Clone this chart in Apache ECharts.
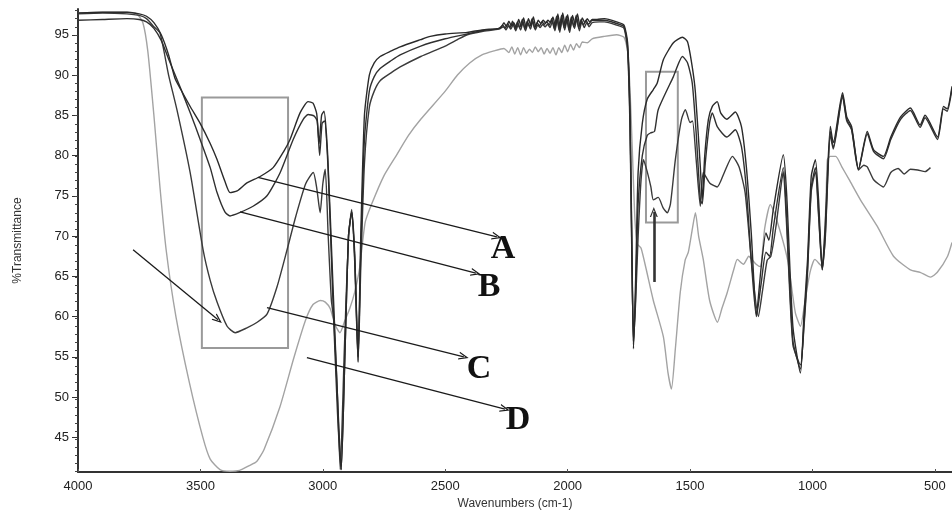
<!DOCTYPE html>
<html><head><meta charset="utf-8">
<script src="https://cdn.jsdelivr.net/npm/echarts@6/dist/echarts.min.js"></script>
<style>html,body{margin:0;padding:0;background:#fff}#c{width:952px;height:515px}</style>
</head><body><div id="c"></div>
<script>
// ---- data: [wavenumber (cm-1), %Transmittance] ----
const specA = [
[4000,97.7],[3900,97.8],[3800,97.8],[3750,97.6],[3720,97.3],[3690,96.5],[3660,95],[3630,92.5],[3604,89.6],[3580,88.2],[3540,86],[3501,84],[3460,81.5],[3432,79.5],[3400,76.8],[3379,75.4],[3350,75.6],[3310,76.6],[3256,77.4],[3203,78.5],[3160,80.5],[3134,82],[3093,85.3],[3060,86.7],[3040,86.5],[3025,85.2],[3015,81.5],[3005,85],[2995,85.5],[2980,80],[2960,65],[2940,50],[2925,41],[2910,55],[2895,70],[2882,73],[2870,68],[2856,55],[2845,70],[2830,85],[2810,90],[2790,91.5],[2766,92.3],[2720,93],[2684,93.5],[2600,94.4],[2561,94.8],[2500,95.1],[2410,95.3],[2350,95.6],[2280,95.8],
[2270,96.0],[2260,96.5],[2250,96.0],[2240,96.7],[2230,96.1],[2220,96.5],[2210,95.9],[2200,96.9],[2190,96.0],[2180,97.1],[2170,95.9],[2160,97.0],[2150,96.1],[2140,97.2],[2130,96.0],[2120,96.8],[2110,96.4],[2100,96.8],[2090,96.5],[2080,96.8],[2070,96.5],[2060,97.2],[2050,96.0],[2040,97.6],[2030,95.8],[2020,97.7],[2010,96.1],[2000,97.5],[1990,95.8],[1980,97.4],[1970,96.3],[1960,97.6],[1950,96.1],[1940,97.1],[1930,96.5],[1920,97.0],[1910,96.6],[1900,96.9],[1880,96.9],
[1850,97],[1800,96.6],[1770,96.2],[1755,94],[1745,85],[1738,70],[1731,56],[1722,65],[1712,78],[1695,84],[1675,87],[1650,88.2],[1634,89],[1609,91.9],[1568,94],[1531,94.7],[1510,94.1],[1491,91],[1478,87.8],[1458,78.6],[1450,74.5],[1440,80],[1425,84.5],[1409,86.1],[1389,86.7],[1375,85.3],[1350,84.5],[1315,85.4],[1290,83.6],[1270,78.6],[1250,70.4],[1229,60.2],[1210,66],[1190,70.4],[1178,69.5],[1160,73.3],[1119,80.1],[1105,75],[1080,58.8],[1049,53],[1035,60],[1020,67.1],[1005,77.4],[988,79.5],[975,74.5],[960,65.8],[948,71.2],[927,83.6],[915,81.6],[877,87.8],[860,84.8],[840,83.6],[812,78.3],[776,83],[750,80.7],[710,79.9],[680,82.3],[640,84.8],[600,85.9],[560,83.8],[540,85],[489,82.3],[465,86.1],[450,85.8],[430,88.6]
];
const specB = [
[4000,96.8],[3900,96.9],[3800,97],[3750,96.9],[3720,96.6],[3690,95.8],[3660,94.3],[3630,92],[3583,88.5],[3540,85.2],[3501,82],[3460,78.5],[3432,75.4],[3400,73],[3379,72.5],[3340,72.9],[3285,73.7],[3228,75],[3174,77.9],[3121,82],[3080,84.5],[3060,85.1],[3035,84.9],[3023,84.3],[3013,80],[3003,84],[2993,84.3],[2978,78],[2960,63],[2940,48],[2925,41],[2910,55],[2895,70],[2882,73],[2870,67],[2856,54.5],[2845,68],[2830,82],[2810,88],[2790,89.8],[2766,90.8],[2720,91.8],[2684,92.5],[2600,93.6],[2500,94.5],[2410,95.1],[2350,95.5],[2280,95.8],
[2265,96.2],[2255,95.8],[2245,96.4],[2235,95.9],[2225,96.7],[2215,95.7],[2205,96.6],[2195,95.9],[2185,96.9],[2175,95.7],[2165,96.7],[2155,96.0],[2145,97.0],[2135,95.8],[2125,96.5],[2115,96.1],[2105,96.6],[2095,96.3],[2085,96.6],[2075,96.2],[2065,97.0],[2055,95.8],[2045,97.3],[2035,95.6],[2025,97.4],[2015,95.9],[2005,97.3],[1995,95.6],[1985,97.2],[1975,96.0],[1965,97.4],[1955,95.8],[1945,96.9],[1935,96.2],[1925,96.8],[1915,96.3],[1900,96.8],[1870,96.8],
[1850,96.8],[1800,96.4],[1770,96],[1755,93.5],[1745,84],[1738,69],[1731,56.5],[1722,63],[1712,74],[1695,80],[1675,82.5],[1662,82.8],[1645,83],[1630,85.7],[1568,89.8],[1531,92.3],[1510,91.5],[1491,89],[1475,82.8],[1458,74.5],[1450,74],[1438,79],[1420,84.1],[1409,85.3],[1389,83.6],[1350,82.3],[1315,83.2],[1290,81.1],[1270,75.8],[1250,67],[1229,60],[1210,64],[1190,68],[1175,67.5],[1160,71],[1119,78.5],[1105,72],[1080,57],[1049,53.5],[1035,59],[1020,66],[1005,76],[988,78.5],[975,73],[960,65.8],[948,70],[927,83],[915,81],[877,87.5],[860,84.5],[840,83.3],[812,78.3],[776,82.7],[750,80.5],[710,79.6],[680,82],[640,84.5],[600,85.6],[560,83.5],[540,84.7],[489,82],[465,85.8],[450,85.5],[430,88.3]
];
const specC = [
[4000,97.6],[3900,97.7],[3800,97.6],[3750,97.4],[3720,97],[3690,96],[3665,95.2],[3630,90],[3596,85.7],[3542,77.9],[3489,68.3],[3460,64.5],[3432,61.8],[3391,58.8],[3358,58],[3310,58.6],[3268,59.3],[3228,60.3],[3187,63.7],[3146,68.3],[3110,72.5],[3070,76.5],[3039,77.9],[3025,76],[3011,72.9],[3000,76.5],[2990,78.3],[2978,70],[2965,62],[2955,59.6],[2940,50],[2929,41],[2912,56],[2895,70],[2882,73.3],[2868,66],[2856,54.3],[2845,66],[2830,79],[2810,86],[2790,88],[2766,89.3],[2720,90.3],[2684,91],[2600,92.3],[2500,93.6],[2450,94.4],[2410,95],[2350,95.4],[2280,95.7],
[2262,96.0],[2252,95.6],[2242,96.1],[2232,95.7],[2222,96.3],[2212,95.5],[2202,96.2],[2192,95.6],[2182,96.6],[2172,95.5],[2162,96.4],[2152,95.7],[2142,96.7],[2132,95.6],[2122,96.2],[2112,95.9],[2102,96.3],[2092,96.0],[2082,96.3],[2072,95.9],[2062,96.7],[2052,95.5],[2042,97.0],[2032,95.3],[2022,97.1],[2012,95.6],[2002,96.9],[1992,95.3],[1982,96.8],[1972,95.8],[1962,97.0],[1952,95.5],[1942,96.6],[1932,95.9],[1922,96.5],[1912,96.0],[1900,96.5],[1870,96.6],
[1850,96.6],[1800,96.2],[1770,95.8],[1755,93],[1745,83],[1738,68],[1731,57],[1722,62],[1712,70],[1700,77],[1690,79.5],[1675,78],[1660,76.1],[1650,74.5],[1630,74.8],[1610,73.5],[1593,72.9],[1580,74],[1560,79.5],[1535,84.5],[1519,85.7],[1500,84.1],[1490,84.3],[1475,79.5],[1458,73.7],[1446,77.9],[1420,76.6],[1389,76.1],[1360,77.9],[1327,79.9],[1300,78.6],[1275,75.4],[1250,67.1],[1221,60],[1205,63],[1185,67],[1170,67.5],[1150,71],[1125,77],[1119,78],[1105,71],[1080,56.5],[1049,54],[1035,58.5],[1020,65.5],[1005,75.5],[988,78],[975,72.5],[960,66],[948,69.5],[927,82.5],[915,80.8],[877,87.3],[860,84.3],[840,83.2],[812,78.2],[790,78.8],[776,78.6],[750,77],[710,76.1],[680,77.9],[650,78.4],[625,77.7],[600,78.3],[570,78.2],[540,78.0],[518,78.5]
];
const specD = [
[4000,97.7],[3900,97.8],[3800,97.8],[3760,97.6],[3735,96.5],[3715,93],[3690,85],[3665,76],[3640,68.3],[3600,60],[3545,51.8],[3490,45],[3460,42.3],[3420,41],[3380,40.8],[3340,40.9],[3300,41.5],[3270,42],[3240,43.5],[3175,48.8],[3120,54.7],[3070,59.6],[3040,61.5],[3010,62],[2990,61.8],[2970,61],[2950,59],[2930,58],[2910,59.5],[2890,61],[2870,63],[2850,66],[2827,71.7],[2800,74],[2750,77.5],[2700,80],[2650,82.5],[2600,84.5],[2500,88],[2450,90],[2400,91.5],[2350,92.5],[2300,93],
[2260,93.3],[2240,92.8],[2228,93.5],[2216,92.6],[2204,93.4],[2192,92.5],[2180,93.4],[2168,92.7],[2156,93.2],[2144,92.8],[2132,93.5],[2120,92.9],[2108,93.4],[2096,92.6],[2084,93.3],[2072,92.7],[2060,93.4],[2048,92.5],[2036,93.4],[2024,92.8],[2012,93.7],[2000,92.9],[1988,93.8],[1976,93.1],[1964,93.9],[1952,93.4],[1940,94.1],[1920,94.0],
[1900,94.5],[1850,94.8],[1800,95],[1770,94.7],[1755,93],[1745,88],[1735,80],[1725,72],[1715,69],[1700,68.5],[1680,66],[1650,62],[1609,57.5],[1590,53],[1576,51],[1560,56],[1540,63],[1520,67],[1507,68],[1490,71],[1478,72.9],[1465,70],[1446,67.1],[1420,62],[1388,59.3],[1370,61],[1348,63],[1320,66],[1307,67.1],[1282,66.5],[1260,67.5],[1245,67],[1230,66.5],[1213,66.2],[1195,71],[1172,73.9],[1150,72.4],[1102,67.1],[1070,60.5],[1049,58.8],[1030,62],[1010,65.5],[990,67.1],[970,66.5],[960,66.2],[945,74],[939,79.5],[927,79.9],[905,79.9],[880,78.6],[850,77],[804,74.5],[735,71.2],[669,67.5],[600,65.8],[560,65.5],[518,64.9],[490,65.5],[448,67.5],[430,69.2]
];
const xTicks = [4000,3500,3000,2500,2000,1500,1000,500];
const yTicks = [45,50,55,60,65,70,75,80,85,90,95];
const yMinorTicks = [41,42,43,44,45,46,47,48,49,50,51,52,53,54,55,56,57,58,59,60,61,62,63,64,65,66,67,68,69,70,71,72,73,74,75,76,77,78,79,80,81,82,83,84,85,86,87,88,89,90,91,92,93,94,95,96,97,98];
const curveLabels = ['A','B','C','D'];
// annotation anchors in data space
const labelPos = [[2264,68.4],[2321,63.7],[2362,53.5],[2203,47.1]];
const arrows = [
  [[3265,77.3],[2289,69.9]],
  [[3338,73.0],[2375,65.4]],
  [[3228,61.1],[2424,55.0]],
  [[3065,54.9],[2256,48.5]],
  [[3775,68.3],[3428,59.6]]
];
const boxArrow = [[1648,64.3],[1648,73.0]];
const boxes = [[[3494,87.2],[3142,56.1]],[[1680,90.4],[1550,71.7]]];

const chevron = 'path://M0,10 L5,0 L10,10 L8.4,10 L5,3.2 L1.6,10 Z';
const chart = echarts.init(document.getElementById('c'));
const font = 'Liberation Sans, Arial, sans-serif';
const xMin = 430, xMax = 4000, yMin = 40.7, yMax = 98.2;

function mkSeries(name, data, color, z, extra) {
  return Object.assign({
    name, type: 'line', data, showSymbol: false, symbol: 'none', smooth: 0.2,
    xAxisIndex: 0, yAxisIndex: 0, z,
    lineStyle: { color, width: 1.4 }, silent: true
  }, extra || {});
}

const annot = {
  markArea: {
    silent: true,
    itemStyle: { color: 'rgba(0,0,0,0)', borderColor: '#9a9a9a', borderWidth: 2 },
    label: { show: false },
    data: boxes.map(b => [{ coord: b[0] }, { coord: b[1] }])
  },
  markLine: {
    silent: true, animation: false,
    symbol: ['none', chevron], symbolSize: [8, 10],
    label: { show: false },
    lineStyle: { color: '#1a1a1a', width: 1.3, type: 'solid' },
    data: arrows.map(a => [{ coord: a[0] }, { coord: a[1] }]).concat([
      [{ coord: boxArrow[0], lineStyle: { width: 2.6, color: '#333' } }, { coord: boxArrow[1] }]
    ])
  },
  markPoint: {
    silent: true, animation: false,
    symbol: 'circle', symbolSize: 1,
    itemStyle: { color: 'rgba(0,0,0,0)' },
    label: { show: true, position: 'inside', formatter: '{b}', color: '#111',
      fontFamily: 'Liberation Serif, Times New Roman, serif', fontWeight: 'bold', fontSize: 34 },
    data: curveLabels.map((n, i) => ({ name: n, coord: labelPos[i] }))
  }
};

chart.setOption({
  animation: false,
  backgroundColor: '#fff',
  grid: [
    { left: 78, right: 0, top: 9, bottom: 41 },
    { left: 78, right: 0, top: 9, bottom: 41 }
  ],
  xAxis: [
    { type: 'value', gridIndex: 0, inverse: true, min: xMin, max: xMax,
      axisLine: { lineStyle: { color: '#333', width: 2 } },
      axisTick: { customValues: xTicks, inside: true, length: 3, lineStyle: { color: '#555' } },
      axisLabel: { customValues: xTicks, formatter: v => String(v), color: '#222', fontSize: 13, fontFamily: font, margin: 8 },
      splitLine: { show: false },
      name: 'Wavenumbers (cm-1)', nameLocation: 'middle', nameGap: 26,
      nameTextStyle: { color: '#333', fontSize: 12, fontFamily: font } },
    { type: 'value', gridIndex: 1, inverse: true, min: xMin, max: xMax, show: false }
  ],
  yAxis: [
    { type: 'value', gridIndex: 0, min: yMin, max: yMax,
      axisLine: { show: true, lineStyle: { color: '#333', width: 2 } },
      axisTick: { show: true, customValues: yTicks, length: 6, lineStyle: { color: '#333' } },
      axisLabel: { customValues: yTicks, formatter: v => String(v), color: '#222', fontSize: 13, fontFamily: font, margin: 9 },
      splitLine: { show: false },
      name: '%Transmittance', nameLocation: 'middle', nameGap: 54,
      nameTextStyle: { color: '#333', fontSize: 12, fontFamily: font } },
    { type: 'value', gridIndex: 1, min: yMin, max: yMax,
      axisLine: { show: false }, axisLabel: { show: false }, splitLine: { show: false },
      axisTick: { show: true, customValues: yMinorTicks, length: 3, lineStyle: { color: '#444' } } }
  ],
  series: [
    mkSeries('D', specD, '#a3a3a3', 1),
    mkSeries('C', specC, '#3a3a3a', 2),
    mkSeries('B', specB, '#303030', 3),
    mkSeries('A', specA, '#2a2a2a', 4, annot)
  ]
});
</script>
</body></html>
